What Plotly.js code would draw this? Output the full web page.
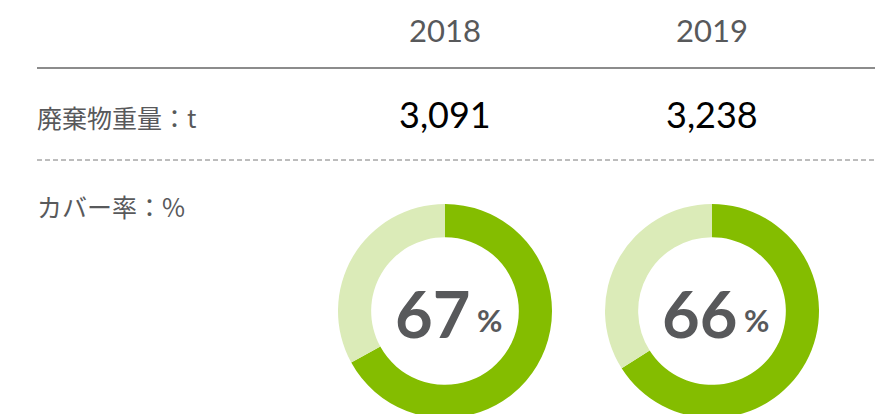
<!DOCTYPE html>
<html>
<head>
<meta charset="utf-8">
<script src="https://cdn.plot.ly/plotly-3.0.1.min.js"></script>
<style>
html,body{margin:0;padding:0;overflow:hidden;background:#fff;}
#chart{width:875px;height:440px;}
</style>
</head>
<body>
<div id="chart"></div>
<script>
const years = ['2018', '2019'];
const wasteWeight = [3091, 3238];
const coverRate = [67, 66];
const rowLabels = ['廃棄物重量：t', 'カバー率：%'];

const W = 875, H = 440;
const px = x => x / W;
const py = y => 1 - y / H;

const colCenters = [445, 712];
const R = 107;
const cy = 311;

const traces = coverRate.map((v, i) => ({
  type: 'pie',
  values: [v, 100 - v],
  sort: false,
  direction: 'clockwise',
  rotation: 0,
  hole: 0.69,
  textinfo: 'none',
  hoverinfo: 'none',
  showlegend: false,
  marker: {colors: ['#84bd00', '#dbebb8'], line: {width: 0}},
  domain: {
    x: [px(colCenters[i] - R), px(colCenters[i] + R)],
    y: [py(cy + R), py(cy - R)]
  }
}));

const annotations = [];
years.forEach((y, i) => {
  annotations.push({
    x: px(colCenters[i]), y: py(30), xref: 'paper', yref: 'paper',
    text: y, showarrow: false, xanchor: 'center', yanchor: 'middle',
    font: {family: 'Lato', size: 31, color: '#58595b'}
  });
  annotations.push({
    x: px(colCenters[i]), y: py(114), xref: 'paper', yref: 'paper',
    text: wasteWeight[i].toLocaleString('en-US'), showarrow: false, xanchor: 'center', yanchor: 'middle',
    font: {family: 'Lato', size: 36, color: '#000000'}
  });
  annotations.push({
    x: px(colCenters[i] + 27), y: py(313), xref: 'paper', yref: 'paper',
    text: '<b>' + coverRate[i] + '</b>', showarrow: false, xanchor: 'right', yanchor: 'middle',
    font: {family: 'Lato', size: 65, color: '#58595b'}
  });
  annotations.push({
    x: px(colCenters[i] + 30), y: py(320), xref: 'paper', yref: 'paper',
    text: '<b>%</b>', showarrow: false, xanchor: 'left', yanchor: 'middle',
    font: {family: 'Lato', size: 31, color: '#58595b'}
  });
});
annotations.push({
  x: px(35), y: py(117), xref: 'paper', yref: 'paper',
  text: rowLabels[0], showarrow: false, xanchor: 'left', yanchor: 'middle',
  font: {family: 'Noto Sans CJK JP', size: 25, color: '#58595b'}
});
annotations.push({
  x: px(35), y: py(206), xref: 'paper', yref: 'paper',
  text: rowLabels[1], showarrow: false, xanchor: 'left', yanchor: 'middle',
  font: {family: 'Noto Sans CJK JP', size: 25, color: '#58595b'}
});

const shapes = [
  {type: 'line', xref: 'paper', yref: 'paper', x0: px(37), x1: px(875), y0: py(68), y1: py(68),
   line: {color: '#666666', width: 1.3}},
  {type: 'line', xref: 'paper', yref: 'paper', x0: px(37), x1: px(875), y0: py(160), y1: py(160),
   line: {color: '#7a7a7a', width: 1, dash: '5px,3px'}}
];

Plotly.newPlot('chart', traces, {
  width: W, height: H,
  margin: {l: 0, r: 0, t: 0, b: 0},
  paper_bgcolor: '#ffffff',
  annotations: annotations,
  shapes: shapes
}, {displayModeBar: false, staticPlot: true});
</script>
</body>
</html>
